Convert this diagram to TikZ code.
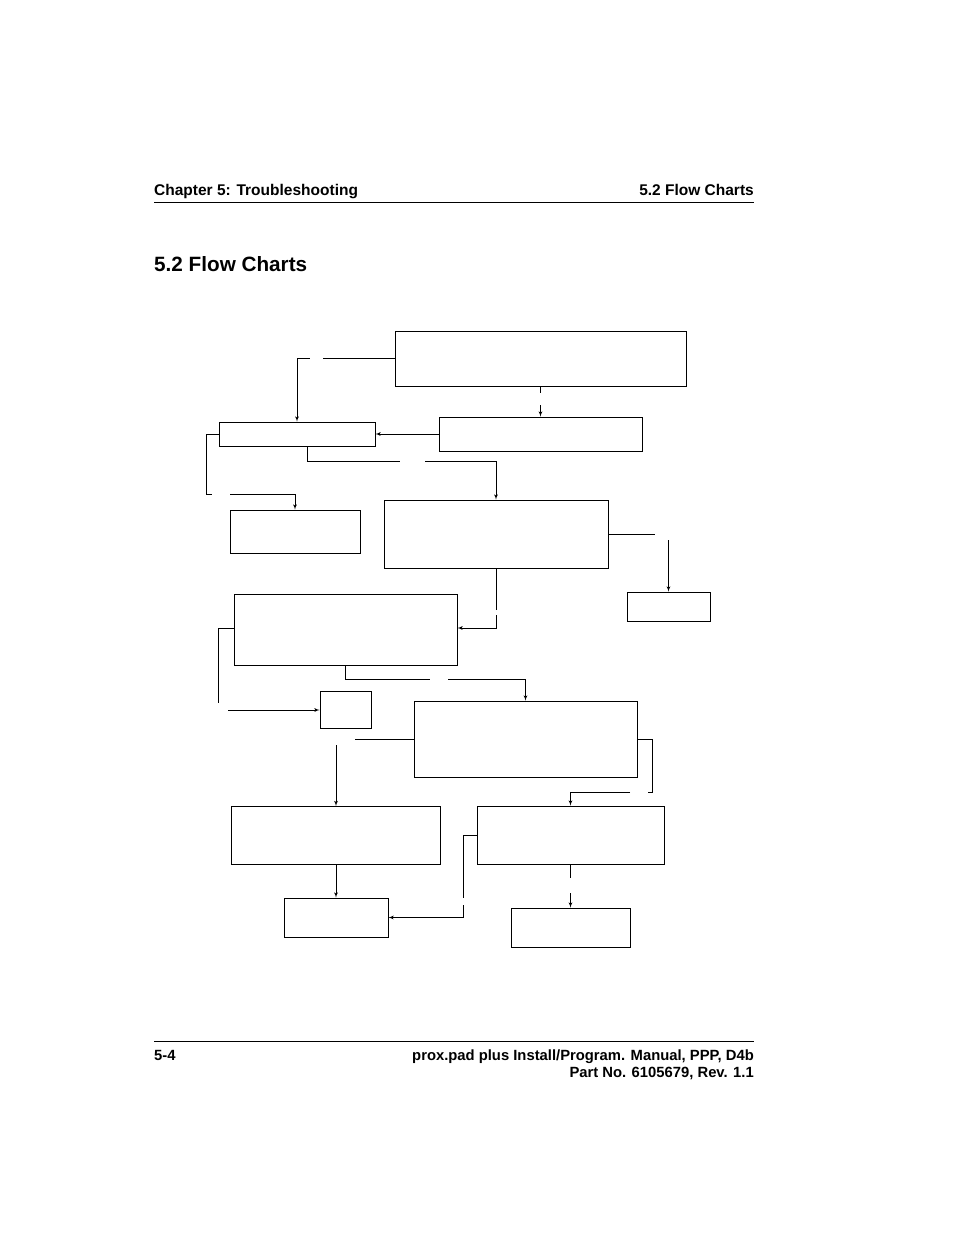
\documentclass[tikz,border=0pt]{standalone}
\usepackage{fontspec}
\setmainfont{Liberation Sans}
\usetikzlibrary{arrows}
\usetikzlibrary{positioning}
\tikzstyle{line} = [draw, -latex']
\tikzset{
    box/.style={draw=black, inner sep=0pt, line width=0.8pt},
    wire/.style={draw=black, line width=0.8pt},
    arr/.style={draw=black, line width=0.8pt, -latex'},
    head/.style={inner sep=0pt, font=\fontsize{15.5}{18}\selectfont\bfseries},
    foot/.style={inner sep=0pt, font=\fontsize{14.8}{17}\selectfont\bfseries},
}
\begin{document}
\begin{tikzpicture}[x=1pt, y=-1pt]
    \useasboundingbox (0,0) rectangle (954,1235);
    % header
    \draw[line width=1pt] (154,202) -- (754,202);
    \node[head, anchor=base west] (hl) at (154,195) {Chapter 5: Troubleshooting};
    \node[head, anchor=base east] (hr) at (754,195) {5.2 Flow Charts};
    \node[anchor=base west, inner sep=0pt, font=\fontsize{20.7}{24}\selectfont\bfseries] (title) at (154,271) {5.2 Flow Charts};
    % boxes
    \node[box, minimum width=291, minimum height=55] (b1) at (540.5,358.5) {};
    \node[box, minimum width=203, minimum height=34] (b2) at (540.5,434) {};
    \node[box, minimum width=156, minimum height=24] (b3) at (297,434) {};
    \node[box, minimum width=130, minimum height=43] (b4) at (295,531.5) {};
    \node[box, minimum width=224, minimum height=68] (b5) at (496,534) {};
    \node[box, minimum width=83, minimum height=29] (b6) at (668.5,606.5) {};
    \node[box, minimum width=223, minimum height=71] (b7) at (345.5,629.5) {};
    \node[box, minimum width=51, minimum height=37] (b8) at (345.5,709.5) {};
    \node[box, minimum width=223, minimum height=76] (b9) at (525.5,739) {};
    \node[box, minimum width=209, minimum height=58] (b10) at (335.5,835) {};
    \node[box, minimum width=187, minimum height=58] (b11) at (570.5,835) {};
    \node[box, minimum width=104, minimum height=39] (b12) at (336,917.5) {};
    \node[box, minimum width=119, minimum height=39] (b13) at (570.5,927.5) {};
    % connectors (gaps left where the labels sat)
    \draw[wire] (b1.west) -- (323,358.5);
    \draw[arr] (297,358.5) -- (310,358.5) (297,358.5) -- (b3.north);
    \draw[wire] (b1.south) -- (540.5,393);
    \draw[arr] (540.5,405) -- (b2.north);
    \draw[arr] (b2.west) -- (b3.east);
    \draw[wire] (b3.west) -- (206,434) -- (206,494) -- (212,494);
    \draw[arr] (230,494) -| (b4.north);
    \draw[wire] (307,446) -- (307,461) -- (400,461);
    \draw[arr] (425,461) -| (b5.north);
    \draw[wire] (b5.east) -- (655,534);
    \draw[arr] (668.5,540) -- (b6.north);
    \draw[wire] (b5.south) -- (496,610);
    \draw[arr] (496,615) -- (496,628) -- (b7.east |- 0,628);
    \draw[wire] (b7.west |- 0,628) -- (218,628) -- (218,703);
    \draw[arr] (228,710) -- (b8.west |- 0,710);
    \draw[wire] (b7.south) -- (345.5,679) -- (430,679);
    \draw[arr] (448,679) -| (b9.north);
    \draw[wire] (b9.west) -- (355,739);
    \draw[arr] (336,745) -- (336,806);
    \draw[wire] (b9.east) -- (652,739) -- (652,792) -- (648,792);
    \draw[arr] (630,792) -| (b11.north);
    \draw[arr] (b10.south -| 336,0) -- (b12.north);
    \draw[wire] (b11.west) -- (463,835) -- (463,898);
    \draw[arr] (463,905) -- (463,917.5) -- (b12.east);
    \draw[wire] (b11.south) -- (570.5,878);
    \draw[arr] (570.5,893) -- (b13.north);
    % footer
    \draw[line width=1pt] (154,1041) -- (754,1041);
    \node[foot, anchor=base west] (fl) at (154,1060) {5-4};
    \node[foot, anchor=base east] (fr1) at (754,1060) {prox.pad plus Install/Program. Manual, PPP, D4b};
    \node[foot, anchor=base east] (fr2) at (754,1077) {Part No. 6105679, Rev. 1.1};
\end{tikzpicture}
\end{document}
